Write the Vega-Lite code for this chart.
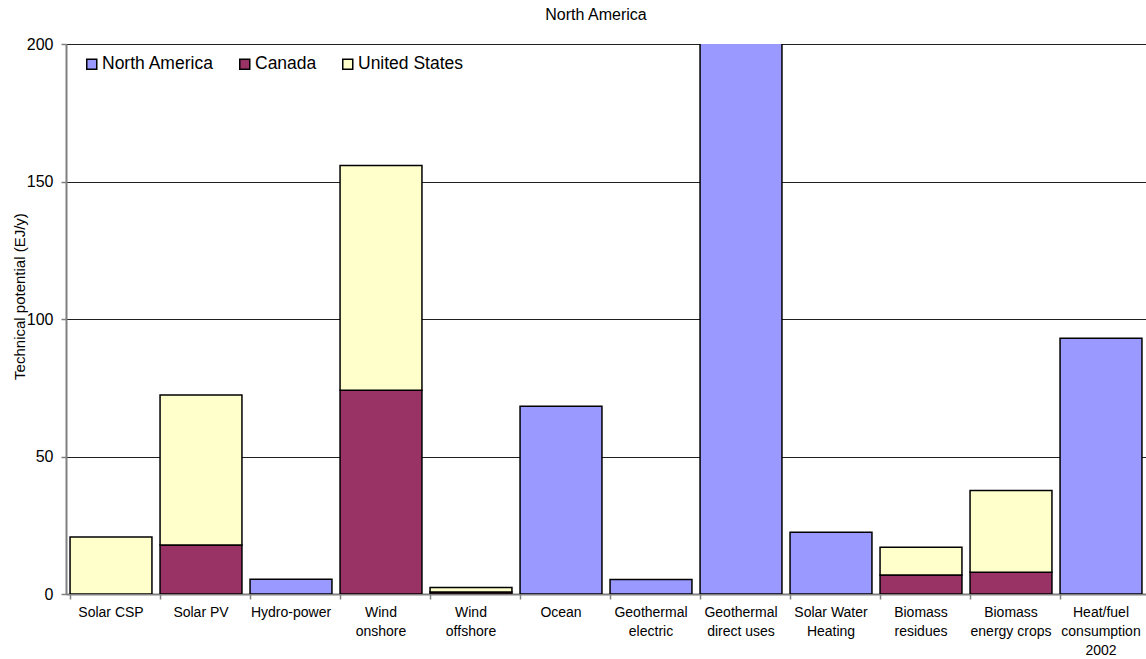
{
  "$schema": "https://vega.github.io/schema/vega-lite/v6.json",
  "autosize": "none",
  "width": 1080,
  "height": 550,
  "padding": {"left": 66, "top": 44, "right": 0, "bottom": 65},
  "background": "white",
  "config": {
    "font": "Liberation Sans",
    "view": {"stroke": null}
  },
  "title": {
    "text": "North America",
    "font": "Liberation Sans",
    "fontSize": 16,
    "fontWeight": "normal",
    "color": "black",
    "anchor": "middle",
    "offset": 13,
    "dx": -10
  },
  "data": {
    "values": [
      {"source": "Solar CSP", "region": "United States", "stackOrder": 2, "value": 20.7},
      {"source": "Solar PV", "region": "Canada", "stackOrder": 1, "value": 17.8},
      {"source": "Solar PV", "region": "United States", "stackOrder": 2, "value": 54.6},
      {"source": "Hydro-power", "region": "North America", "stackOrder": 0, "value": 5.4},
      {"source": "Wind\nonshore", "region": "Canada", "stackOrder": 1, "value": 74.1},
      {"source": "Wind\nonshore", "region": "United States", "stackOrder": 2, "value": 81.7},
      {"source": "Wind\noffshore", "region": "Canada", "stackOrder": 1, "value": 0.7},
      {"source": "Wind\noffshore", "region": "United States", "stackOrder": 2, "value": 1.7},
      {"source": "Ocean", "region": "North America", "stackOrder": 0, "value": 68.3},
      {"source": "Geothermal\nelectric", "region": "North America", "stackOrder": 0, "value": 5.3},
      {"source": "Geothermal\ndirect uses", "region": "North America", "stackOrder": 0, "value": 250},
      {"source": "Solar Water\nHeating", "region": "North America", "stackOrder": 0, "value": 22.5},
      {"source": "Biomass\nresidues", "region": "Canada", "stackOrder": 1, "value": 6.9},
      {"source": "Biomass\nresidues", "region": "United States", "stackOrder": 2, "value": 10.1},
      {"source": "Biomass\nenergy crops", "region": "Canada", "stackOrder": 1, "value": 7.9},
      {"source": "Biomass\nenergy crops", "region": "United States", "stackOrder": 2, "value": 29.7},
      {"source": "Heat/fuel\nconsumption\n2002", "region": "North America", "stackOrder": 0, "value": 93.0}
    ]
  },
  "mark": {"type": "bar", "stroke": "black", "strokeWidth": 1.5, "clip": true},
  "encoding": {
    "x": {
      "field": "source",
      "type": "nominal",
      "sort": null,
      "scale": {"paddingInner": 0.09, "paddingOuter": 0.045},
      "axis": {
        "title": null,
        "labelAngle": 0,
        "labelExpr": "split(datum.label, '\\n')",
        "labelFont": "Liberation Sans",
        "labelFontSize": 14,
        "labelColor": "black",
        "labelLineHeight": 19,
        "labelPadding": 6,
        "labelBaseline": "top",
        "bandPosition": 0,
        "tickSize": 5,
        "tickColor": "#808080",
        "tickWidth": 1.5,
        "domainColor": "#808080",
        "domainWidth": 2,
        "grid": false
      }
    },
    "y": {
      "field": "value",
      "type": "quantitative",
      "stack": "zero",
      "scale": {"domain": [0, 200], "nice": false},
      "axis": {
        "title": "Technical potential (EJ/y)",
        "titleFont": "Liberation Sans",
        "titleFontSize": 15,
        "titleFontWeight": "normal",
        "titleColor": "black",
        "titleX": -47,
        "titleY": 252,
        "titleBaseline": "middle",
        "titleAngle": -90,
        "values": [0, 50, 100, 150, 200],
        "labelFont": "Liberation Sans",
        "labelFontSize": 16,
        "labelColor": "black",
        "labelPadding": 8,
        "tickSize": 5,
        "tickColor": "#808080",
        "tickWidth": 1.5,
        "domainColor": "#808080",
        "domainWidth": 2,
        "grid": true,
        "gridColor": "#202020",
        "gridWidth": 1
      }
    },
    "color": {
      "field": "region",
      "type": "nominal",
      "scale": {
        "domain": ["North America", "Canada", "United States"],
        "range": ["#9999FF", "#993366", "#FFFFCC"]
      },
      "legend": {
        "title": null,
        "orient": "none",
        "legendX": 17,
        "legendY": 11,
        "direction": "horizontal",
        "symbolType": "square",
        "symbolSize": 100,
        "symbolStrokeColor": "black",
        "symbolStrokeWidth": 1.5,
        "labelFont": "Liberation Sans",
        "labelFontSize": 17.5,
        "labelColor": "black",
        "labelOffset": 1.5,
        "columnPadding": 22,
        "padding": 0
      }
    },
    "order": {"field": "stackOrder", "type": "quantitative"}
  }
}
